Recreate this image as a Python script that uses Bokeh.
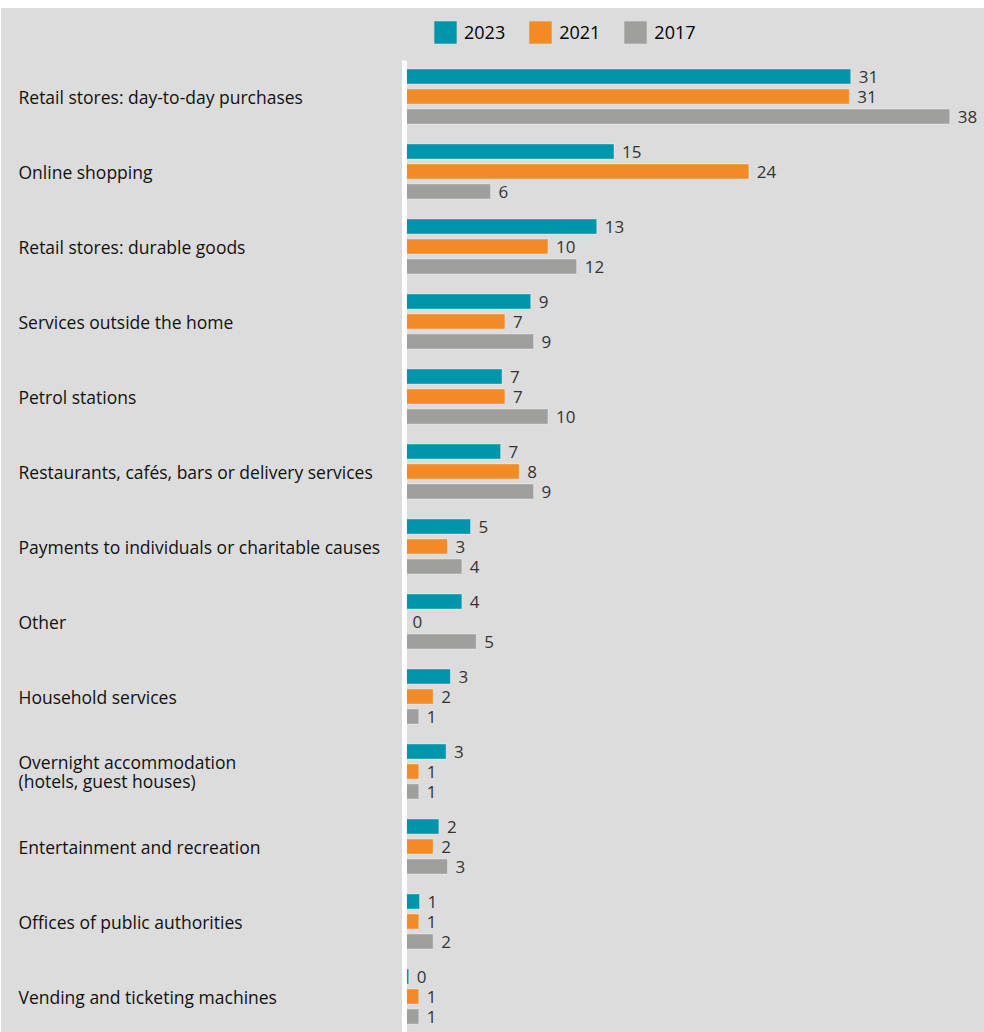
from bokeh.plotting import figure
from bokeh.models import ColumnDataSource, FactorRange, Range1d, Span, Legend, LegendItem, Spacer
from bokeh.layouts import column, row
from bokeh.core.properties import value
from bokeh.embed import file_html
from bokeh.resources import INLINE

categories = [
    "Retail stores: day-to-day purchases",
    "Online shopping",
    "Retail stores: durable goods",
    "Services outside the home",
    "Petrol stations",
    "Restaurants, cafés, bars or delivery services",
    "Payments to individuals or charitable causes",
    "Other",
    "Household services",
    "Overnight accommodation\n(hotels, guest houses)",
    "Entertainment and recreation",
    "Offices of public authorities",
    "Vending and ticketing machines",
]
years = ["2023", "2021", "2017"]
v2023 = [31.1, 14.6, 13.4, 8.8, 6.8, 6.7, 4.6, 4.0, 3.2, 2.9, 2.4, 1.05, 0.3]
v2021 = [31.0, 24.0, 10.0, 7.0, 7.0, 8.0, 3.0, 0.0, 2.0, 1.0, 2.0, 1.0, 1.0]
v2017 = [38.0, 6.0, 12.0, 9.0, 10.0, 9.0, 4.0, 5.0, 1.0, 1.0, 3.0, 2.0, 1.0]
colors = ["#0095AA", "#F28A26", "#9F9F9D"]

series = {"2023": v2023, "2021": v2021, "2017": v2017}

BG = "#DCDCDC"
X_START, X_END = -28.08, 40.42

factors = [(c, y) for c in categories for y in years][::-1]
yr = FactorRange(factors=factors, group_padding=0.75, factor_padding=0.0,
                 range_padding=0.3, range_padding_units="absolute")

p = figure(width=983, height=972, y_range=yr, x_range=Range1d(X_START, X_END),
           output_backend="svg", toolbar_location=None,
           x_axis_location=None, y_axis_location=None,
           min_border_top=0, min_border_left=0, min_border_right=0, min_border_bottom=0,
           background_fill_color=BG, border_fill_color=BG, outline_line_color=None)
p.xgrid.visible = False
p.ygrid.visible = False

# legend strip above the bars
lg = figure(width=983, height=52, x_range=Range1d(0, 1), y_range=Range1d(0, 1),
            output_backend="svg", toolbar_location=None,
            x_axis_location=None, y_axis_location=None,
            min_border_top=0, min_border_left=0, min_border_right=0, min_border_bottom=0,
            background_fill_color=BG, border_fill_color=BG, outline_line_color=None)
lg.xgrid.visible = False
lg.ygrid.visible = False

items = []
lab_x, lab_y, lab_t = [], [], []
for yrs, col in zip(years, colors):
    vals = series[yrs]
    src = ColumnDataSource(dict(y=[(c, yrs) for c in categories], v=vals))
    p.hbar(y="y", left=0, right="v", height=0.75, source=src,
           fill_color=col, line_color="white", line_alpha=0.35, line_width=1)
    # off-screen proxy glyph, only used for the legend swatch
    dummy = lg.hbar(y=[-5], left=[0], right=[1], height=0.75,
                    fill_color=col, line_color=None)
    items.append(LegendItem(label=yrs, renderers=[dummy]))
    for c, v in zip(categories, vals):
        lab_x.append(v)
        lab_y.append((c, yrs))
        lab_t.append(f"{round(v)}")

lsrc = ColumnDataSource(dict(x=lab_x, y=lab_y, t=lab_t))
p.text(x="x", y="y", text="t", source=lsrc, x_offset=8,
       text_baseline="middle", text_align="left",
       text_font=value("Open Sans"), text_font_size="17px", text_color="#333333")

csrc = ColumnDataSource(dict(x=[X_START] * len(categories),
                             y=[(c, "2021") for c in categories], t=categories))
p.text(x="x", y="y", text="t", source=csrc, x_offset=17,
       text_baseline="middle", text_align="left", text_line_height=0.78,
       text_font=value("Open Sans"), text_font_size="17.5px", text_color="#111111")

p.add_layout(Span(location=0, dimension="height", line_color="white", line_width=5))

legend = Legend(items=items, orientation="horizontal", location=(430, 14),
                glyph_width=28, glyph_height=28, label_standoff=5, spacing=21,
                padding=0, margin=0, background_fill_alpha=0, border_line_color=None,
                label_text_font="Open Sans", label_text_font_size="18px",
                label_text_color="#000000")
lg.add_layout(legend, "center")

inner = column(lg, p, spacing=0, styles={"background-color": BG})
layout = column(Spacer(height=8), row(Spacer(width=1), inner), spacing=0)

open("out.html", "w").write(file_html(layout, INLINE))
